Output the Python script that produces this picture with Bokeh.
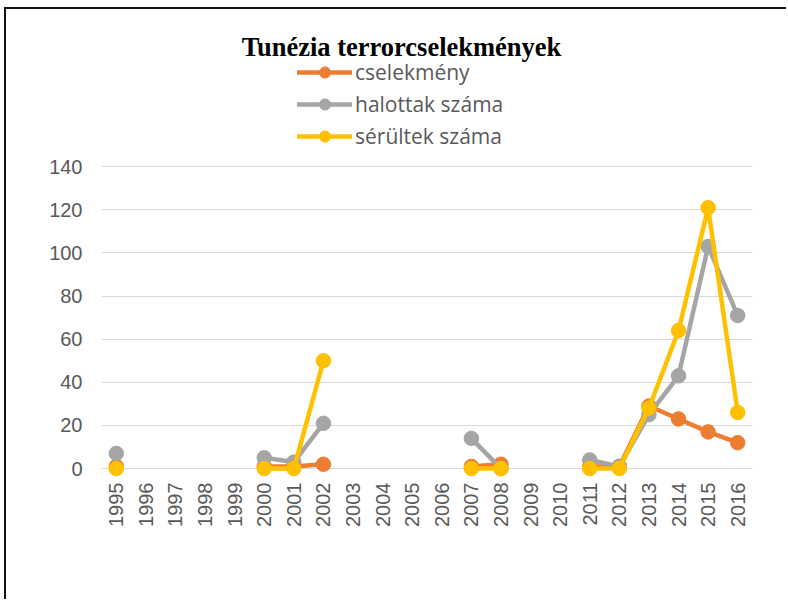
import math
from bokeh.plotting import figure
from bokeh.models import Range1d, FixedTicker, Legend, LegendItem, Label
from bokeh.embed import file_html
from bokeh.resources import INLINE

nan = float("nan")

title_text = "Tunézia terrorcselekmények"
years = list(range(1995, 2017))
cselekmeny = [1, nan, nan, nan, nan, 1, 1, 2, nan, nan, nan, nan, 1, 2, nan, nan, 1, 1, 29, 23, 17, 12]
halottak = [7, nan, nan, nan, nan, 5, 3, 21, nan, nan, nan, nan, 14, 0, nan, nan, 4, 1, 25, 43, 103, 71]
serultek = [0, nan, nan, nan, nan, 0, 0, 50, nan, nan, nan, nan, 0, 0, nan, nan, 0, 0, 28, 64, 121, 26]
series_names = ["cselekmény", "halottak száma", "sérültek száma"]
series_colors = ["#ED7D31", "#A5A5A5", "#FFC000"]
y_ticks = [0, 20, 40, 60, 80, 100, 120, 140]

W, H = 782, 592
FRAME_H = 472
p = figure(width=W, height=H, output_backend="svg", toolbar_location=None,
           x_range=Range1d(1994.5, 2016.5), y_range=Range1d(-6, 212.9),
           min_border_left=95, min_border_right=W - 746, min_border_top=0,
           min_border_bottom=H - FRAME_H)
p.styles = {"margin-left": "4px", "margin-top": "7px",
            "border-left": "2px solid #111111", "border-top": "2px solid #111111"}
p.outline_line_color = None
p.background_fill_color = "white"
p.border_fill_color = "white"

p.xgrid.grid_line_color = None
p.ygrid.grid_line_color = "#D9D9D9"
p.ygrid.grid_line_width = 1
p.yaxis.ticker = FixedTicker(ticks=y_ticks)
p.xaxis.ticker = FixedTicker(ticks=years)

for ax in (p.xaxis[0], p.yaxis[0]):
    ax.axis_line_color = None
    ax.major_tick_line_color = None
    ax.minor_tick_line_color = None
    ax.major_tick_in = 0
    ax.major_tick_out = 0
    ax.major_label_text_font = "Liberation Sans"
    ax.major_label_text_font_size = "20px"
    ax.major_label_text_color = "#595959"
p.yaxis.major_label_standoff = 19
p.xaxis.major_label_standoff = 1
p.xaxis.major_label_orientation = math.pi / 2

items = []
for name, vals, col in zip(series_names, [cselekmeny, halottak, serultek], series_colors):
    lr = p.line(years, vals, line_color=col, line_width=4.5, line_join="round", line_cap="round")
    sr = p.scatter(years, vals, marker="circle", size=14.5, fill_color=col, line_color=col)
    items.append(LegendItem(label=name, renderers=[lr, sr]))

legend = Legend(items=items, location=(196, 331), orientation="vertical",
                background_fill_alpha=0, border_line_color=None,
                padding=0, margin=0, spacing=4, glyph_width=55, glyph_height=28,
                label_height=28,
                label_text_font="Open Sans", label_text_font_size="21px",
                label_text_color="#595959", label_standoff=3)
p.add_layout(legend, "center")

t = Label(x=300, y=435, x_units="screen", y_units="screen", text=title_text,
          text_font="Liberation Serif", text_font_style="bold", text_font_size="26.5px",
          text_color="black", text_align="center", text_baseline="alphabetic")
p.add_layout(t)

open("out.html", "w").write(file_html(p, INLINE))
